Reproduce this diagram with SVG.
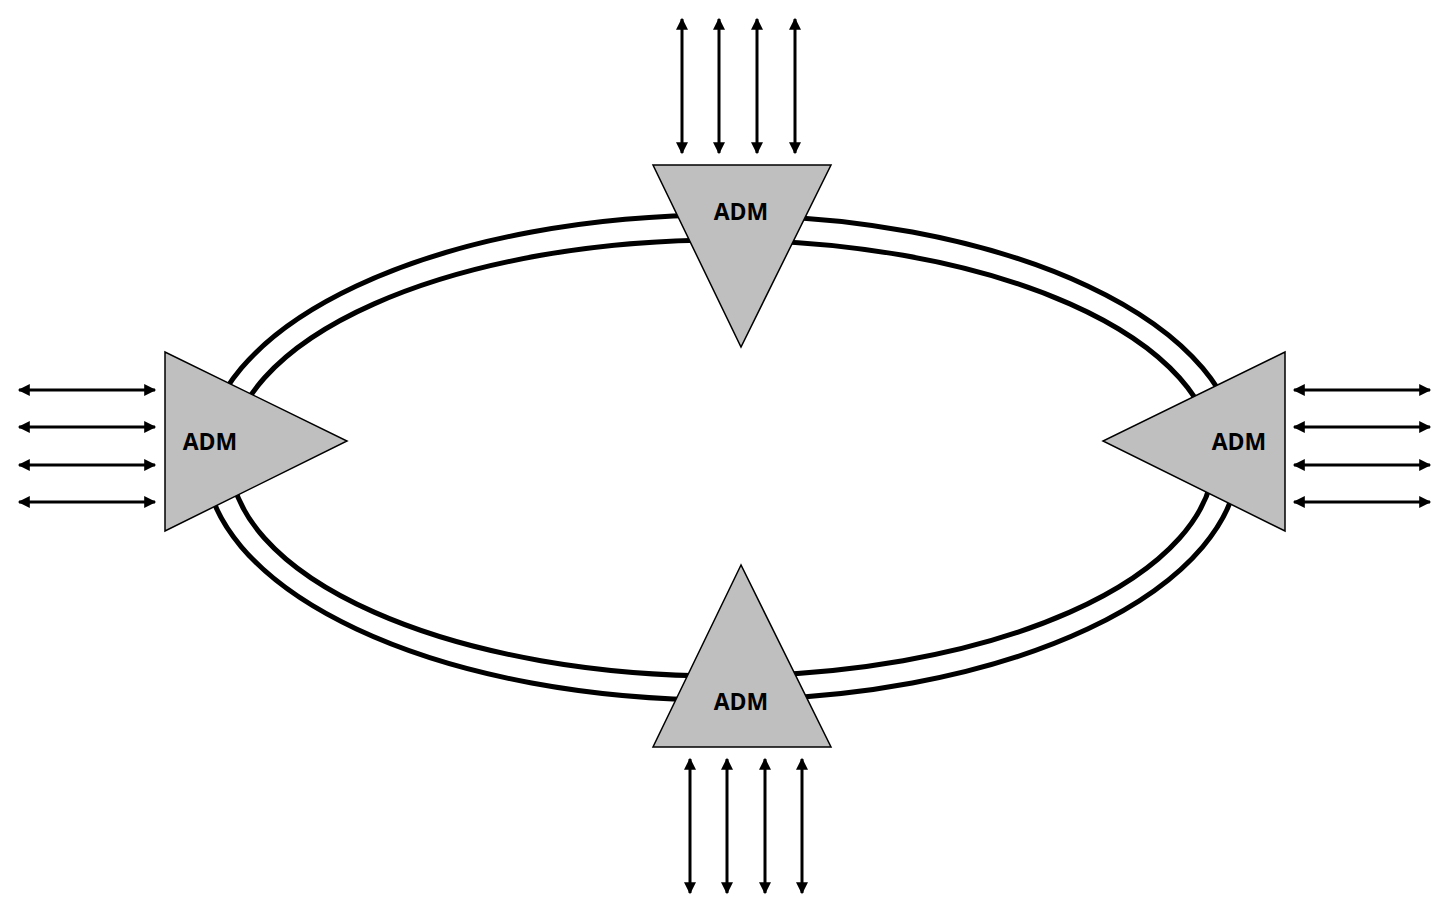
<svg xmlns="http://www.w3.org/2000/svg" width="1448" height="913" viewBox="0 0 1448 913">
<style>
.ring{fill:none;stroke:#000;stroke-width:5}
.tri{fill:#bfbfbf;stroke:#000;stroke-width:1.5}
.lbl{font-family:"Open Sans","Liberation Sans",sans-serif;font-weight:bold;font-size:23px;text-anchor:middle;fill:#000}
.ar{stroke:#000;stroke-width:3;marker-start:url(#ah);marker-end:url(#ah)}
</style>
<defs>
<marker id="ah" viewBox="0 0 10 10" refX="9" refY="5" markerWidth="5" markerHeight="4" orient="auto-start-reverse" markerUnits="strokeWidth">
<path d="M0,0L10,5L0,10z" fill="#000"/>
</marker>
</defs>
<rect width="1448" height="913" fill="#fff"/>
<g id="ring">
<ellipse class="ring" cx="722" cy="457.5" rx="517" ry="242.5"/>
<ellipse class="ring" cx="722" cy="458" rx="492" ry="218"/>
</g>
<g id="connectors">
<line class="ar" x1="682" y1="19" x2="682" y2="153"/>
<line class="ar" x1="719" y1="19" x2="719" y2="153"/>
<line class="ar" x1="757" y1="19" x2="757" y2="153"/>
<line class="ar" x1="795" y1="19" x2="795" y2="153"/>
<line class="ar" x1="690" y1="759" x2="690" y2="893"/>
<line class="ar" x1="727" y1="759" x2="727" y2="893"/>
<line class="ar" x1="765" y1="759" x2="765" y2="893"/>
<line class="ar" x1="802" y1="759" x2="802" y2="893"/>
<line class="ar" x1="19" y1="390" x2="155" y2="390"/>
<line class="ar" x1="19" y1="427" x2="155" y2="427"/>
<line class="ar" x1="19" y1="465" x2="155" y2="465"/>
<line class="ar" x1="19" y1="502" x2="155" y2="502"/>
<line class="ar" x1="1294" y1="390" x2="1430" y2="390"/>
<line class="ar" x1="1294" y1="427" x2="1430" y2="427"/>
<line class="ar" x1="1294" y1="465" x2="1430" y2="465"/>
<line class="ar" x1="1294" y1="502" x2="1430" y2="502"/>
</g>
<g id="adm-top"><polygon class="tri" points="653,165 831,165 741,347"/><text class="lbl" x="741" y="220">ADM</text></g>
<g id="adm-left"><polygon class="tri" points="165,352 165,531 347,441"/><text class="lbl" x="210" y="450">ADM</text></g>
<g id="adm-right"><polygon class="tri" points="1285,352 1285,531 1103,441"/><text class="lbl" x="1239" y="450">ADM</text></g>
<g id="adm-bottom"><polygon class="tri" points="741,565 653,747 831,747"/><text class="lbl" x="741" y="710">ADM</text></g>
</svg>
